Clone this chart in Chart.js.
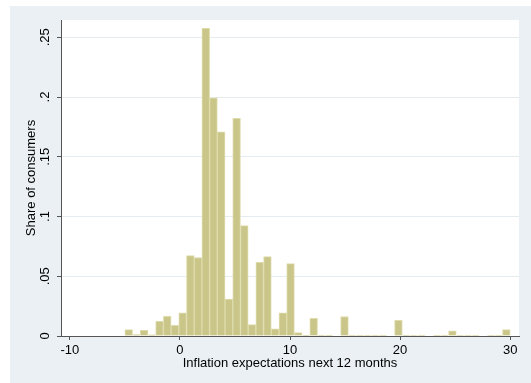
<!DOCTYPE html>
<html>
<head>
<meta charset="utf-8">
<script src="https://cdn.jsdelivr.net/npm/chart.js@4.4.1/dist/chart.umd.min.js"></script>
<style>
  html, body { margin: 0; padding: 0; background: #ffffff; }
  #wrap { width: 531px; height: 383px; }
</style>
</head>
<body>
<div id="wrap"><canvas id="myChart" width="531" height="383"></canvas></div>
<script>
// histogram bins: 50 bins of width 0.7 starting at -5
var binStart = -5;
var binWidth = 0.7;
var shares = [
  0.0053, 0.0012, 0.0048, 0.0010, 0.0123, 0.0165, 0.0089, 0.0193, 0.0673, 0.0656,
  0.2575, 0.1994, 0.1709, 0.0310, 0.1821, 0.0924, 0.0095, 0.0617, 0.0665, 0.0059,
  0.0193, 0.0606, 0.0028, 0.0005, 0.0148, 0.0007, 0.0007, 0.0000, 0.0163, 0.0007,
  0.0006, 0.0006, 0.0007, 0.0007, 0.0000, 0.0131, 0.0007, 0.0006, 0.0007, 0.0000,
  0.0006, 0.0007, 0.0043, 0.0006, 0.0007, 0.0006, 0.0000, 0.0006, 0.0007, 0.0054
];
var xTicks = [-10, 0, 10, 20, 30];
var yTicks = [0, 0.05, 0.1, 0.15, 0.2, 0.25];
var yTickLabels = ["0", ".05", ".1", ".15", ".2", ".25"];

var points = [];
shares.forEach(function (v, i) {
  points.push({ x: binStart + binWidth * (i + 0.5), y: v });
});

var fontFam = "'Liberation Sans', Arial, sans-serif";

var bgPlugin = {
  id: "bgPlugin",
  beforeDraw: function (chart) {
    var ctx = chart.ctx, a = chart.chartArea;
    ctx.save();
    ctx.fillStyle = "#eaf0f3";
    ctx.fillRect(10, 6, chart.width - 10, chart.height - 6);
    ctx.fillStyle = "#ffffff";
    ctx.fillRect(a.left, a.top, a.right - a.left, a.bottom - a.top);
    ctx.restore();
  }
};

var barChart = new Chart("myChart", {
  type: "bar",
  data: {
    datasets: [{
      data: points,
      backgroundColor: "rgb(202,198,138)",
      borderColor: "rgb(223,220,172)",
      borderWidth: 1,
      barPercentage: 1,
      categoryPercentage: 1
    }]
  },
  options: {
    responsive: false,
    animation: false,
    layout: { padding: { top: 20, right: 12, left: 0, bottom: 0 } },
    plugins: { legend: { display: false }, tooltip: { enabled: false } },
    scales: {
      x: {
        type: "linear",
        min: -10.8,
        max: 30.8,
        offset: false,
        afterFit: function (s) { s.height = 47; },
        afterBuildTicks: function (s) { s.ticks = xTicks.map(function (v) { return { value: v }; }); },
        grid: { offset: false, drawOnChartArea: false, drawTicks: true, tickLength: 4, tickColor: "#555" },
        border: { color: "#555", width: 1 },
        ticks: { color: "#000", font: { family: fontFam, size: 13 }, padding: 3, maxRotation: 0 },
        title: { display: true, text: "Inflation expectations next 12 months", color: "#000",
                 font: { family: fontFam, size: 13 }, padding: { top: 0, bottom: 12 } }
      },
      y: {
        min: 0,
        max: 0.2645,
        afterFit: function (s) { s.width = 61; },
        afterBuildTicks: function (s) { s.ticks = yTicks.map(function (v) { return { value: v }; }); },
        grid: { color: "#e4ecef", drawTicks: true, tickLength: 4, tickColor: "#555" },
        border: { color: "#555", width: 1 },
        ticks: {
          color: "#000", font: { family: fontFam, size: 13 }, padding: 3,
          minRotation: 90, maxRotation: 90, crossAlign: "center",
          callback: function (v) { var i = yTicks.indexOf(v); return i >= 0 ? yTickLabels[i] : ""; }
        },
        title: { display: true, text: "Share of consumers", color: "#000",
                 font: { family: fontFam, size: 13 }, padding: { top: 24, bottom: 0 } }
      }
    }
  },
  plugins: [bgPlugin]
});
</script>
</body>
</html>
